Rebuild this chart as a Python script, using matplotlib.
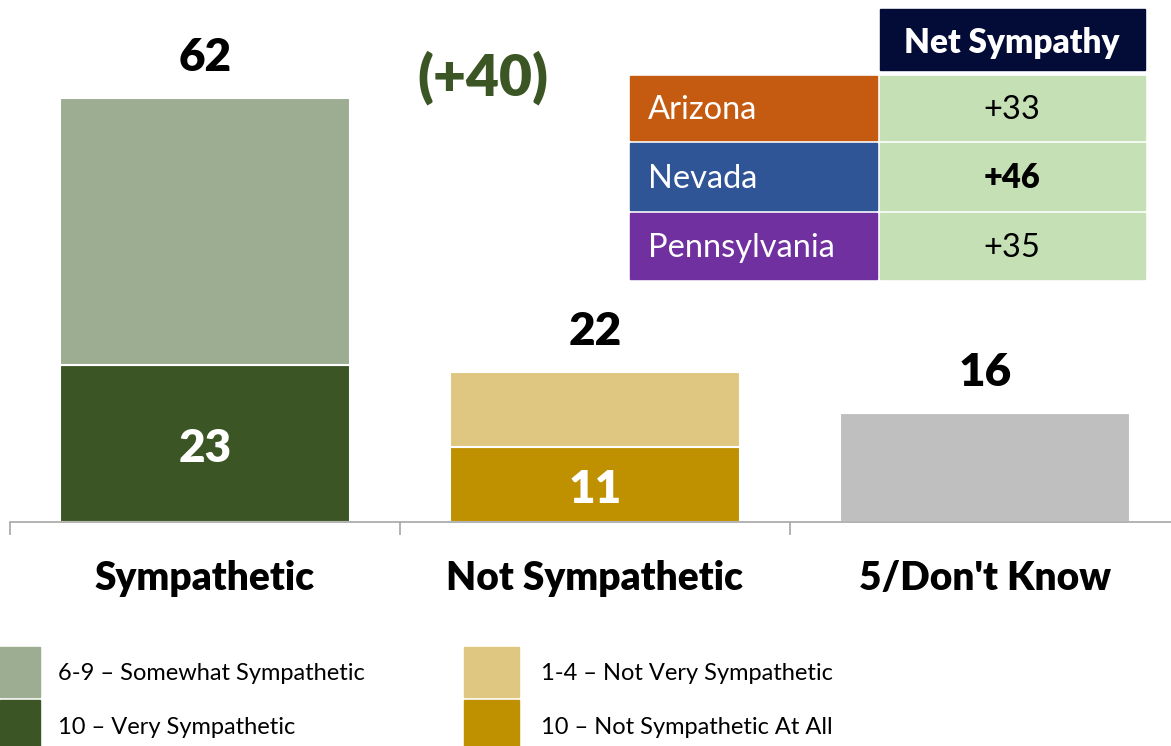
import matplotlib
matplotlib.use("Agg")
import matplotlib.pyplot as plt
from matplotlib.patches import Rectangle

plt.rcParams['font.family'] = ['Lato', 'DejaVu Sans']

# data
categories = ["Sympathetic", "Not Sympathetic", "5/Don't Know"]
strong = [23, 11, 16]       # bottom segment (10 / very)
soft = [39, 11, 0]          # top segment
totals = [62, 22, 16]
net_label = "(+40)"

legend_labels = ["6-9 \u2013 Somewhat Sympathetic", "10 \u2013 Very Sympathetic",
                 "1-4 \u2013 Not Very Sympathetic", "10 \u2013 Not Sympathetic At All"]

states = ["Arizona", "Nevada", "Pennsylvania"]
state_net = ["+33", "+46", "+35"]
state_bold = [False, True, False]

# styles
dark_cols = ["#3B5624", "#BF9000", "#BFBFBF"]
light_cols = ["#9CAD92", "#E0C781", "#BFBFBF"]
state_cols = ["#C55A11", "#2F5597", "#7030A0"]
header_col = "#020C36"
cell_col = "#C5E0B4"

W, H = 1171, 746
fig = plt.figure(figsize=(W / 100, H / 100), dpi=100)

base = 522
ppu = 6.84
ax = fig.add_axes([10 / W, (H - base) / H, 1170 / W, base / H])
ax.set_xlim(-0.5, 2.5)
ax.set_ylim(0, base / ppu)

x = range(len(categories))
ax.bar(x, strong, width=0.745, color=dark_cols, edgecolor='white', linewidth=1.5)
ax.bar(x, soft, width=0.745, bottom=strong, color=light_cols, edgecolor='white', linewidth=1.5)

for spine in ['top', 'right', 'left']:
    ax.spines[spine].set_visible(False)
ax.spines['bottom'].set_color('#A6A6A6')
ax.spines['bottom'].set_linewidth(1.2)
ax.set_yticks([])
ax.set_xticks([-0.5, 0.5, 1.5])
ax.set_xticklabels([])
ax.tick_params(axis='x', direction='out', length=9.5, width=1.2, color='#A6A6A6')

for i, cat in enumerate(categories):
    ax.text(i, -8.3, cat, ha='center', va='center', fontsize=28, fontweight='heavy')
    ax.text(i, totals[i] + 5.9, str(totals[i]), ha='center', va='center',
            fontsize=33, fontweight='heavy')
    if soft[i] > 0:
        ax.text(i, strong[i] / 2 - 0.7, str(strong[i]), ha='center', va='center',
                fontsize=33, fontweight='heavy', color='white')

ax.text(0.713, 65, net_label, ha='center', va='center', fontsize=41,
        fontweight='heavy', color='#3B5624')

# overlay for table and legend, pixel coordinates
ov = fig.add_axes([0, 0, 1, 1])
ov.set_xlim(0, W)
ov.set_ylim(H, 0)
ov.axis('off')

ov.add_patch(Rectangle((880, 9), 265, 61, color=header_col))
ov.text(1012, 43, "Net Sympathy", ha='center', va='center', color='white',
        fontsize=24, fontweight='heavy')
row_tops = [76, 143, 213]
row_h = [64, 67, 66]
for i, st in enumerate(states):
    mid = row_tops[i] + row_h[i] / 2 + 2
    ov.add_patch(Rectangle((630, row_tops[i]), 247, row_h[i], color=state_cols[i]))
    ov.add_patch(Rectangle((880, row_tops[i]), 265, row_h[i], color=cell_col))
    ov.text(648, mid, st, ha='left', va='center', color='white', fontsize=23.5)
    ov.text(1012, mid, state_net[i], ha='center', va='center', color='black',
            fontsize=23.5, fontweight='heavy' if state_bold[i] else 'normal')

leg_cols = [light_cols[0], dark_cols[0], light_cols[1], dark_cols[1]]
leg_x = [0, 0, 464, 464]
leg_tx = [58, 58, 541, 541]
leg_y = [647, 700, 647, 700]
for i, lab in enumerate(legend_labels):
    w = 40 if leg_x[i] == 0 else 55
    ov.add_patch(Rectangle((leg_x[i], leg_y[i]), w, 50, color=leg_cols[i]))
    ov.text(leg_tx[i], leg_y[i] + 27, lab, ha='left', va='center', fontsize=17)

fig.savefig("out.png", dpi=100)
